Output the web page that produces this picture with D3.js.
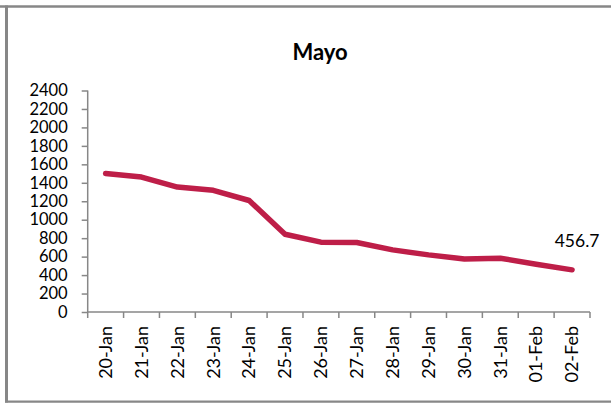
<!DOCTYPE html>
<html>
<head>
<meta charset="utf-8">
<script src="https://cdn.jsdelivr.net/npm/d3@7"></script>
<style>
  html, body { margin: 0; padding: 0; background: #fff; }
  svg { display: block; }
  text { font-family: Lato, "Open Sans", sans-serif; fill: #000; }
</style>
</head>
<body>
<svg id="chart" width="611" height="403"></svg>
<script>
const categories = ["20-Jan","21-Jan","22-Jan","23-Jan","24-Jan","25-Jan","26-Jan","27-Jan","28-Jan","29-Jan","30-Jan","31-Jan","01-Feb","02-Feb"];
const values = [1500, 1462, 1354, 1318, 1208, 843, 757, 753, 673, 619, 575, 583, 518, 456.7];
const yTicks = [0,200,400,600,800,1000,1200,1400,1600,1800,2000,2200,2400];
const title = "Mayo";
const lastLabel = "456.7";

const svg = d3.select("#chart");
const W = 611, H = 403;
const plot = { left: 87.7, right: 590, top: 90.5, bottom: 312 };
const grey = "#878787";

// outer frame (cropped chart border)
svg.append("line").attr("x1", 0).attr("x2", W).attr("y1", 6.5).attr("y2", 6.5)
  .attr("stroke", grey).attr("stroke-width", 2.5);
svg.append("line").attr("x1", 6.5).attr("x2", 6.5).attr("y1", 5.5).attr("y2", 402.5)
  .attr("stroke", grey).attr("stroke-width", 3);
svg.append("line").attr("x1", 5).attr("x2", W).attr("y1", 401.7).attr("y2", 401.7)
  .attr("stroke", grey).attr("stroke-width", 2.2);

const x = d3.scaleBand().domain(categories).range([plot.left, plot.right]).padding(0);
const y = d3.scaleLinear().domain([0, 2400]).range([plot.bottom, plot.top]);

// title
svg.append("text").attr("x", 320).attr("y", 60).attr("text-anchor", "middle")
  .style("font-weight", "700").style("font-size", "22px").text(title);

// Y axis
const yAxis = svg.append("g").attr("transform", `translate(${plot.left},0)`)
  .call(d3.axisLeft(y).tickValues(yTicks).tickSize(6).tickPadding(14).tickFormat(d3.format("d")));
yAxis.select(".domain").attr("stroke", grey).attr("stroke-width", 1.5).attr("d", `M0,${plot.bottom}V${plot.top}`);
yAxis.selectAll(".tick line").attr("stroke", grey).attr("stroke-width", 1.5);
yAxis.selectAll(".tick text").style("font-size", "16.5px").style("font-family", "Lato, sans-serif").attr("fill", "#000");

// X axis
const xAxis = svg.append("g").attr("transform", `translate(0,${plot.bottom})`)
  .call(d3.axisBottom(x).tickSize(0).tickPadding(0));
xAxis.select(".domain").attr("stroke", grey).attr("stroke-width", 1.5).attr("d", `M${plot.left},0H${plot.right}`);
// tick marks between categories
const boundaries = categories.map(c => x(c)).concat([x(categories[categories.length-1]) + x.bandwidth()]);
xAxis.selectAll(".bnd").data(boundaries).enter().append("line")
  .attr("class", "bnd").attr("x1", d => d).attr("x2", d => d).attr("y1", 0).attr("y2", 6)
  .attr("stroke", grey).attr("stroke-width", 1.5);
xAxis.selectAll(".tick text")
  .style("font-size", "18px").style("font-family", "Lato, sans-serif").attr("fill", "#000")
  .attr("text-anchor", "end")
  .attr("dy", "0.35em")
  .attr("transform", "translate(0,14) rotate(-90)")
  .attr("x", 0).attr("y", 0);

// line
const line = d3.line().x((d, i) => x(categories[i]) + x.bandwidth() / 2).y(d => y(d));
svg.append("path").datum(values).attr("d", line)
  .attr("fill", "none").attr("stroke", "#BE1E48").attr("stroke-width", 5.5)
  .attr("stroke-linejoin", "round").attr("stroke-linecap", "round");

// data label on last point
const li = values.length - 1;
svg.append("text")
  .attr("x", x(categories[li]) + x.bandwidth() / 2 + 5)
  .attr("y", y(values[li]) - 23)
  .attr("text-anchor", "middle").style("font-size", "17.5px").text(lastLabel);
</script>
</body>
</html>
